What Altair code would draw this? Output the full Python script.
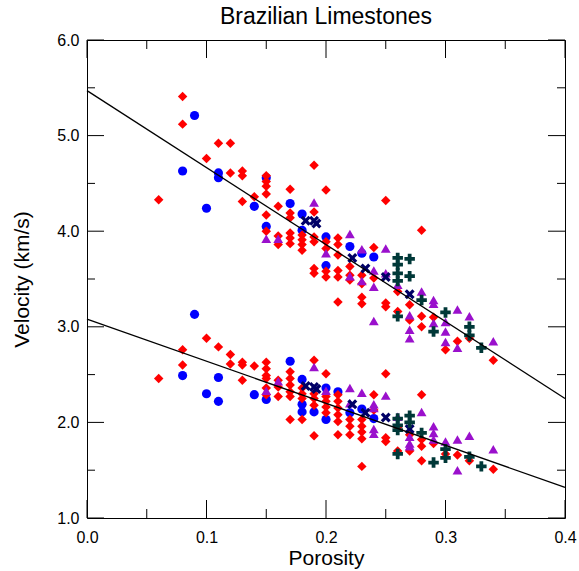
import altair as alt
import pandas as pd

# ---------------- data ----------------
# Blue circles
blue_vp_phi = [0.09, 0.08, 0.11, 0.11, 0.15, 0.10, 0.14, 0.15, 0.17, 0.18, 0.18, 0.20, 0.20, 0.22, 0.23, 0.24]
blue_vp = [5.21, 4.63, 4.61, 4.56, 4.56, 4.24, 4.26, 4.05, 4.29, 4.18, 4.01, 3.94, 3.64, 3.84, 3.77, 3.73]
blue_vs_phi = [0.09, 0.08, 0.11, 0.10, 0.11, 0.14, 0.15, 0.17, 0.18, 0.18, 0.18, 0.19, 0.20, 0.20, 0.21, 0.22, 0.23, 0.24]
blue_vs = [3.13, 2.49, 2.47, 2.30, 2.22, 2.29, 2.24, 2.64, 2.45, 2.19, 2.11, 2.11, 2.36, 2.03, 2.32, 2.10, 2.14, 2.04]

# Red diamonds
red_vp_phi = [0.06, 0.08, 0.08, 0.10, 0.11, 0.12, 0.12, 0.13, 0.13, 0.13, 0.14,
              0.15, 0.15, 0.15, 0.15, 0.15, 0.15, 0.16, 0.16, 0.16,
              0.17, 0.17, 0.17, 0.17, 0.17, 0.17, 0.18, 0.18, 0.18, 0.18,
              0.19, 0.19, 0.19, 0.19, 0.19, 0.19, 0.20, 0.20, 0.20, 0.20, 0.20,
              0.21, 0.21, 0.21, 0.21, 0.21, 0.21, 0.22, 0.22, 0.22,
              0.23, 0.23, 0.23, 0.23, 0.24, 0.24, 0.25, 0.25, 0.25, 0.26, 0.26,
              0.27, 0.27, 0.28, 0.28, 0.28, 0.29, 0.30, 0.31, 0.32, 0.34]
red_vp = [4.33, 5.41, 5.12, 4.76, 4.92, 4.92, 4.61, 4.63, 4.58, 4.31, 4.36,
          4.58, 4.52, 4.47, 4.39, 4.17, 4.00, 4.26, 3.95, 3.86,
          4.44, 4.19, 4.14, 3.98, 3.93, 3.87, 3.96, 3.91, 3.86, 3.80,
          4.69, 4.20, 3.94, 3.89, 3.61, 3.56, 4.43, 3.89, 3.82, 3.58, 3.52,
          3.93, 3.86, 3.75, 3.59, 3.52, 3.26, 3.63, 3.54, 3.49,
          3.54, 3.45, 3.31, 3.24, 3.83, 3.51, 4.32, 3.25, 3.21, 3.37, 3.16,
          3.23, 3.07, 4.01, 3.11, 3.00, 3.10, 2.76, 2.85, 2.88, 2.65]
red_vs_phi = [0.06, 0.08, 0.08, 0.10, 0.11, 0.12, 0.12, 0.13, 0.13, 0.13, 0.14,
              0.15, 0.15, 0.15, 0.15, 0.15, 0.15, 0.16, 0.16, 0.16,
              0.17, 0.17, 0.17, 0.17, 0.17, 0.17, 0.18, 0.18, 0.18, 0.18,
              0.19, 0.19, 0.19, 0.19, 0.19, 0.20, 0.20, 0.20, 0.20, 0.20,
              0.21, 0.21, 0.21, 0.21, 0.21, 0.21, 0.22, 0.22, 0.22,
              0.23, 0.23, 0.23, 0.23, 0.23, 0.24, 0.24, 0.25, 0.25, 0.25,
              0.26, 0.26, 0.27, 0.27, 0.28, 0.28, 0.28, 0.28, 0.29, 0.30, 0.31, 0.32, 0.34]
red_vs = [2.46, 2.76, 2.60, 2.88, 2.79, 2.71, 2.61, 2.63, 2.60, 2.44, 2.59,
          2.63, 2.56, 2.49, 2.46, 2.36, 2.29, 2.44, 2.37, 2.27,
          2.53, 2.46, 2.39, 2.32, 2.27, 2.03, 2.36, 2.30, 2.25, 2.03,
          2.65, 2.30, 2.25, 2.18, 1.86, 2.51, 2.27, 2.22, 2.16, 2.10,
          2.29, 2.22, 2.15, 2.08, 2.01, 1.87, 2.03, 1.96, 1.87,
          2.03, 1.96, 1.90, 1.83, 1.54, 2.29, 2.13, 2.51, 1.84, 1.80,
          1.95, 1.70, 1.87, 1.70, 2.29, 1.82, 1.75, 1.60, 1.78, 1.67, 1.66, 1.60, 1.51]

# Purple triangles
purple_vp_phi = [0.15, 0.16, 0.19, 0.20, 0.22, 0.22, 0.23, 0.23, 0.24, 0.24, 0.24, 0.25, 0.25, 0.26,
                 0.27, 0.27, 0.27, 0.28, 0.29, 0.29, 0.29, 0.30, 0.30, 0.30, 0.31, 0.31, 0.32, 0.34]
purple_vp = [3.92, 3.92, 4.30, 3.77, 3.97, 3.53, 3.81, 3.48, 3.59, 3.42, 3.06, 3.82, 3.56, 3.44,
             3.12, 2.97, 2.88, 3.37, 3.28, 3.24, 3.04, 3.05, 2.95, 2.84, 3.18, 2.78, 3.11, 2.85]
purple_vs_phi = [0.15, 0.16, 0.19, 0.20, 0.22, 0.22, 0.23, 0.24, 0.24, 0.24, 0.24, 0.25, 0.26,
                 0.27, 0.27, 0.27, 0.28, 0.29, 0.29, 0.29, 0.30, 0.31, 0.31, 0.32, 0.34]
purple_vs = [2.33, 2.43, 2.58, 2.33, 2.36, 2.20, 2.31, 2.19, 2.15, 1.93, 1.88, 2.28, 2.06,
             1.85, 1.78, 1.75, 2.11, 1.96, 1.89, 1.82, 1.80, 1.82, 1.50, 1.86, 1.72]

# Navy x marks
navy_vp_phi = [0.183, 0.19, 0.192, 0.222, 0.233, 0.25, 0.27]
navy_vp = [4.11, 4.11, 4.08, 3.72, 3.61, 3.52, 3.34]
navy_vs_phi = [0.183, 0.19, 0.192, 0.222, 0.233, 0.25, 0.27]
navy_vs = [2.38, 2.37, 2.35, 2.19, 2.10, 2.05, 1.93]

# Dark green crosses
green_vp_phi = [0.26, 0.26, 0.26, 0.26, 0.27, 0.27, 0.26, 0.28, 0.29, 0.30, 0.32, 0.32, 0.33]
green_vp = [3.72, 3.65, 3.56, 3.48, 3.71, 3.53, 3.11, 3.28, 2.95, 3.15, 3.00, 2.91, 2.78]
green_vs_phi = [0.26, 0.26, 0.26, 0.27, 0.27, 0.26, 0.28, 0.29, 0.30, 0.30, 0.32, 0.33]
green_vs = [2.04, 1.97, 1.92, 2.07, 2.00, 1.67, 1.89, 1.58, 1.72, 1.63, 1.64, 1.54]

# Fitted lines (end values at porosity 0.0 and 0.4)
fit_phi = [0.0, 0.4]
fit_vp = [5.47, 2.25]
fit_vs = [3.08, 1.32]

# Axis tick values
x_major = [0.0, 0.1, 0.2, 0.3, 0.4]
x_minor = [0.05, 0.15, 0.25, 0.35]
y_major = [1.0, 2.0, 3.0, 4.0, 5.0, 6.0]
y_minor = [1.5, 2.5, 3.5, 4.5, 5.5]

# ---------------- build tables ----------------
W, H = 478, 478
X_DOM = [0.0, 0.4]
Y_DOM = [1.0, 6.0]

groups = ["blue", "red", "purple", "navy", "green"]
marker_size = {"blue": 84, "red": 90, "purple": 96, "navy": 100, "green": 110}
series = [
    ("blue", blue_vp_phi, blue_vp, blue_vs_phi, blue_vs),
    ("red", red_vp_phi, red_vp, red_vs_phi, red_vs),
    ("purple", purple_vp_phi, purple_vp, purple_vs_phi, purple_vs),
    ("navy", navy_vp_phi, navy_vp, navy_vs_phi, navy_vs),
    ("green", green_vp_phi, green_vp, green_vs_phi, green_vs),
]
rows = []
for name, pvp, vp, pvs, vs in series:
    rows += [{"phi": a, "v": b, "group": name, "sz": marker_size[name]} for a, b in zip(pvp, vp)]
    rows += [{"phi": a, "v": b, "group": name, "sz": marker_size[name]} for a, b in zip(pvs, vs)]
pts = pd.DataFrame(rows)

# line segments: the two fitted lines plus inward tick marks on all four sides
seg = []
seg.append({"x": fit_phi[0], "y": fit_vp[0], "x2": fit_phi[1], "y2": fit_vp[1], "w": 1.3})
seg.append({"x": fit_phi[0], "y": fit_vs[0], "x2": fit_phi[1], "y2": fit_vs[1], "w": 1.3})

dy_per_px = (Y_DOM[1] - Y_DOM[0]) / H
dx_per_px = (X_DOM[1] - X_DOM[0]) / W
for vals, px in ((x_major, 18), (x_minor, 9)):
    for t in vals:
        seg.append({"x": t, "y": Y_DOM[0], "x2": t, "y2": Y_DOM[0] + px * dy_per_px, "w": 1.0})
        seg.append({"x": t, "y": Y_DOM[1], "x2": t, "y2": Y_DOM[1] - px * dy_per_px, "w": 1.0})
for vals, px in ((y_major, 17), (y_minor, 8)):
    for t in vals:
        seg.append({"x": X_DOM[0], "y": t, "x2": X_DOM[0] + px * dx_per_px, "y2": t, "w": 1.0})
        seg.append({"x": X_DOM[1], "y": t, "x2": X_DOM[1] - px * dx_per_px, "y2": t, "w": 1.0})
segs = pd.DataFrame(seg)

FONT = "Liberation Sans"
X_PATH = "M-1,-0.55L-0.55,-1L0,-0.45L0.55,-1L1,-0.55L0.45,0L1,0.55L0.55,1L0,0.45L-0.55,1L-1,0.55L-0.45,0Z"
PLUS_PATH = "M-0.36,-1H0.36V-0.36H1V0.36H0.36V1H-0.36V0.36H-1V-0.36H-0.36Z"

xscale = alt.Scale(domain=X_DOM, nice=False, zero=False)
yscale = alt.Scale(domain=Y_DOM, nice=False, zero=False)

main_x_axis = alt.Axis(values=x_major, format=".1f", ticks=False, tickSize=0, domain=False,
                       grid=False, labelFontSize=16, labelFont=FONT, labelColor="black",
                       labelPadding=11, title="Porosity", titleFontSize=21, titleFont=FONT,
                       titleFontWeight="normal", titleColor="black", titlePadding=2,
                       labelFlush=False, labelOverlap=False)
main_y_axis = alt.Axis(values=y_major, format=".1f", ticks=False, tickSize=0, domain=False,
                       grid=False, labelFontSize=16, labelFont=FONT, labelColor="black",
                       labelPadding=8, title="Velocity (km/s)", titleFontSize=21, titleFont=FONT,
                       titleFontWeight="normal", titleColor="black", titlePadding=24,
                       labelFlush=False, labelOverlap=False)

points = alt.Chart(pts).mark_point(filled=True, opacity=1, strokeWidth=0).encode(
    x=alt.X("phi:Q", scale=xscale, axis=main_x_axis),
    y=alt.Y("v:Q", scale=yscale, axis=main_y_axis),
    color=alt.Color("group:N", scale=alt.Scale(domain=groups,
                    range=["#0000FF", "#FF0000", "#9A10CC", "#000066", "#003838"]), legend=None),
    shape=alt.Shape("group:N", scale=alt.Scale(domain=groups,
                    range=["circle", "diamond", "triangle-up", X_PATH, PLUS_PATH]), legend=None),
    size=alt.Size("sz:Q", scale=None, legend=None),
)

segments = alt.Chart(segs).mark_rule(color="black").encode(
    x=alt.X("x:Q", scale=xscale, axis=None),
    x2="x2:Q",
    y=alt.Y("y:Q", scale=yscale, axis=None),
    y2="y2:Q",
    strokeWidth=alt.StrokeWidth("w:Q", scale=None, legend=None),
)

chart = alt.layer(points, segments).resolve_axis(
    x="independent", y="independent"
).properties(
    width=W,
    height=H,
    autosize=alt.AutoSizeParams(type="none"),
    padding={"left": 87, "top": 40, "right": 14, "bottom": 53},
    title=alt.Title("Brazilian Limestones", fontSize=23, font=FONT, fontWeight="normal",
                    color="black", frame="group", anchor="middle", offset=3),
).configure_view(stroke="black", strokeWidth=1)

chart.save("out.html", embed_options={"renderer": "svg", "actions": False})
